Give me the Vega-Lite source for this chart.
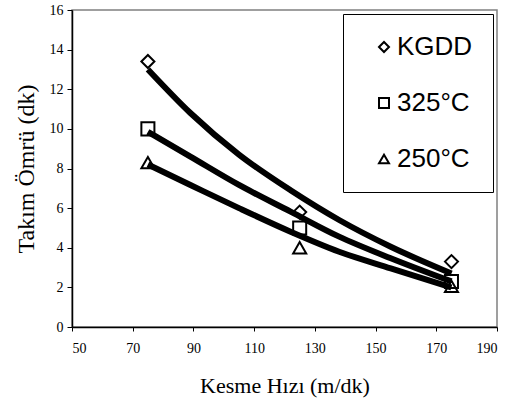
{
  "$schema": "https://vega.github.io/schema/vega-lite/v6.json",
  "width": 425,
  "height": 317,
  "autosize": {"type": "none"},
  "padding": {"left": 72, "top": 10, "right": 15, "bottom": 78},
  "background": "white",
  "config": {
    "view": {"stroke": "#808080", "strokeWidth": 1.5},
    "axis": {
      "grid": false,
      "domainColor": "black",
      "domainWidth": 1.5,
      "tickColor": "black",
      "tickWidth": 1,
      "labelFont": "Liberation Serif",
      "labelFontSize": 14,
      "labelColor": "black",
      "labelOverlap": false,
      "titleFont": "Liberation Serif",
      "titleFontWeight": "normal",
      "titleColor": "black"
    }
  },
  "datasets": {
    "pts": [
      {"hiz": 75, "omur": 13.4, "seri": "KGDD"},
      {"hiz": 125, "omur": 5.8, "seri": "KGDD"},
      {"hiz": 175, "omur": 3.3, "seri": "KGDD"},
      {"hiz": 75, "omur": 10.0, "seri": "325°C"},
      {"hiz": 125, "omur": 5.0, "seri": "325°C"},
      {"hiz": 175, "omur": 2.3, "seri": "325°C"},
      {"hiz": 75, "omur": 8.3, "seri": "250°C"},
      {"hiz": 125, "omur": 4.0, "seri": "250°C"},
      {"hiz": 175, "omur": 2.05, "seri": "250°C"}
    ],
    "egri": [
      {"hiz": 75, "omur": 13.0, "seri": "KGDD"},
      {"hiz": 89, "omur": 10.8, "seri": "KGDD"},
      {"hiz": 105, "omur": 8.7, "seri": "KGDD"},
      {"hiz": 122, "omur": 6.9, "seri": "KGDD"},
      {"hiz": 138, "omur": 5.4, "seri": "KGDD"},
      {"hiz": 155, "omur": 4.05, "seri": "KGDD"},
      {"hiz": 175, "omur": 2.7, "seri": "KGDD"},
      {"hiz": 75, "omur": 9.85, "seri": "325°C"},
      {"hiz": 89, "omur": 8.6, "seri": "325°C"},
      {"hiz": 105, "omur": 7.17, "seri": "325°C"},
      {"hiz": 122, "omur": 5.82, "seri": "325°C"},
      {"hiz": 138, "omur": 4.56, "seri": "325°C"},
      {"hiz": 155, "omur": 3.47, "seri": "325°C"},
      {"hiz": 175, "omur": 2.3, "seri": "325°C"},
      {"hiz": 75, "omur": 8.2, "seri": "250°C"},
      {"hiz": 89, "omur": 7.17, "seri": "250°C"},
      {"hiz": 105, "omur": 6.0, "seri": "250°C"},
      {"hiz": 122, "omur": 4.81, "seri": "250°C"},
      {"hiz": 138, "omur": 3.8, "seri": "250°C"},
      {"hiz": 155, "omur": 2.96, "seri": "250°C"},
      {"hiz": 175, "omur": 2.0, "seri": "250°C"}
    ]
  },
  "encoding": {
    "x": {
      "field": "hiz", "type": "quantitative",
      "scale": {"domain": [50, 190], "nice": false, "zero": false},
      "axis": {"values": [50, 70, 90, 110, 130, 150, 170, 190], "title": "Kesme Hızı (m/dk)", "titleFontSize": 22, "tickSize": 4, "labelPadding": 10, "titlePadding": 20, "labelOverlap": false}
    },
    "y": {
      "field": "omur", "type": "quantitative",
      "scale": {"domain": [0, 16], "nice": false},
      "axis": {"values": [0, 2, 4, 6, 8, 10, 12, 14, 16], "title": "Takım Ömrü (dk)", "titleFontSize": 24, "tickSize": 5, "labelPadding": 4, "titlePadding": 11, "labelOverlap": false}
    }
  },
  "layer": [
    {
      "data": {"name": "pts"},
      "mark": {"type": "point", "filled": false, "size": 170, "strokeWidth": 2, "color": "black", "opacity": 1},
      "encoding": {
        "shape": {
          "field": "seri", "type": "nominal",
          "scale": {"domain": ["KGDD", "325°C", "250°C"], "range": ["diamond", "square", "triangle-up"]},
          "legend": {
            "title": null,
            "orient": "none",
            "legendX": 271,
            "legendY": 4,
            "strokeColor": "black",
            "fillColor": "white",
            "padding": 20,
            "symbolOffset": 8,
            "rowPadding": 30,
            "symbolSize": 100,
            "symbolStrokeWidth": 2,
            "symbolStrokeColor": "black",
            "symbolFillColor": "transparent",
            "labelFont": "Liberation Sans",
            "labelFontSize": 26,
            "labelColor": "black",
            "labelOffset": 0,
            "labelLimit": 300
          }
        }
      }
    },
    {
      "data": {"name": "egri"},
      "mark": {"type": "line", "color": "black", "strokeWidth": 6, "interpolate": "monotone"},
      "encoding": {
        "detail": {"field": "seri", "type": "nominal"}
      }
    }
  ]
}
